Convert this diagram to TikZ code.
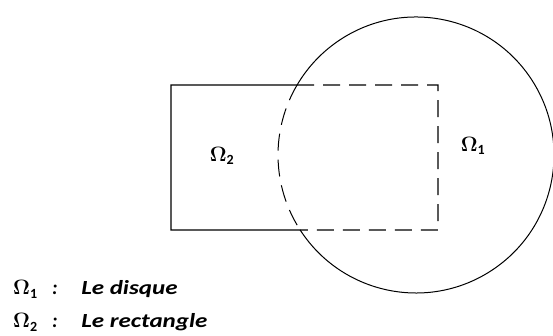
\documentclass[tikz,border=0pt]{standalone}
\usepackage{fontspec}
\usepackage{amsmath}
\setmainfont{Carlito}
\usetikzlibrary{calc}
\begin{document}
\begin{tikzpicture}[x=1pt,y=1pt,
    edge/.style={line width=1.3pt},
    rim/.style={line width=1pt},
    hidden/.style={dash pattern=on 17pt off 9pt},
    omega/.style={font=\fontsize{20}{22}\selectfont},
    legend/.style={anchor=base west,inner sep=0pt,font=\fontsize{20}{22}\selectfont\itshape\bfseries}]
    \useasboundingbox (0,0) rectangle (553,336);
    % disque et rectangle
    \coordinate (C) at (416,181);
    \coordinate (A) at (171,251);
    \coordinate (B) at (438,106);
    \coordinate (P) at ($(C)+(149.5:138)$);
    \coordinate (Q) at ($(C)+(212.9:138)$);
    \draw[edge] (P) -- (A) -- (A |- B) -- (Q);
    \draw[edge,hidden] (P) -- (A -| B) -- (B) -- (Q);
    \draw[rim] (Q) arc[start angle=212.9,end angle=509.5,radius=138];
    \draw[rim,hidden] (P) arc[start angle=149.5,end angle=212.9,radius=138];
    \node[omega] (o2) at (222,180) {$\boldsymbol{\Omega}_{\mathbf 2}$};
    \node[omega] (o1) at (473,190) {$\boldsymbol{\Omega}_{\mathbf 1}$};
    % legende
    \foreach \i/\t/\y in {1/Le disque/41, 2/Le rectangle/8} {
        \node[legend] (l\i) at (13,\y) {$\boldsymbol{\Omega}_{\mathbf{\i}}$};
        \node[legend] (c\i) at (52,\y) {:};
        \node[legend,xscale=1.25,transform shape] (t\i) at (81,\y) {\t};
    }
\end{tikzpicture}
\end{document}
